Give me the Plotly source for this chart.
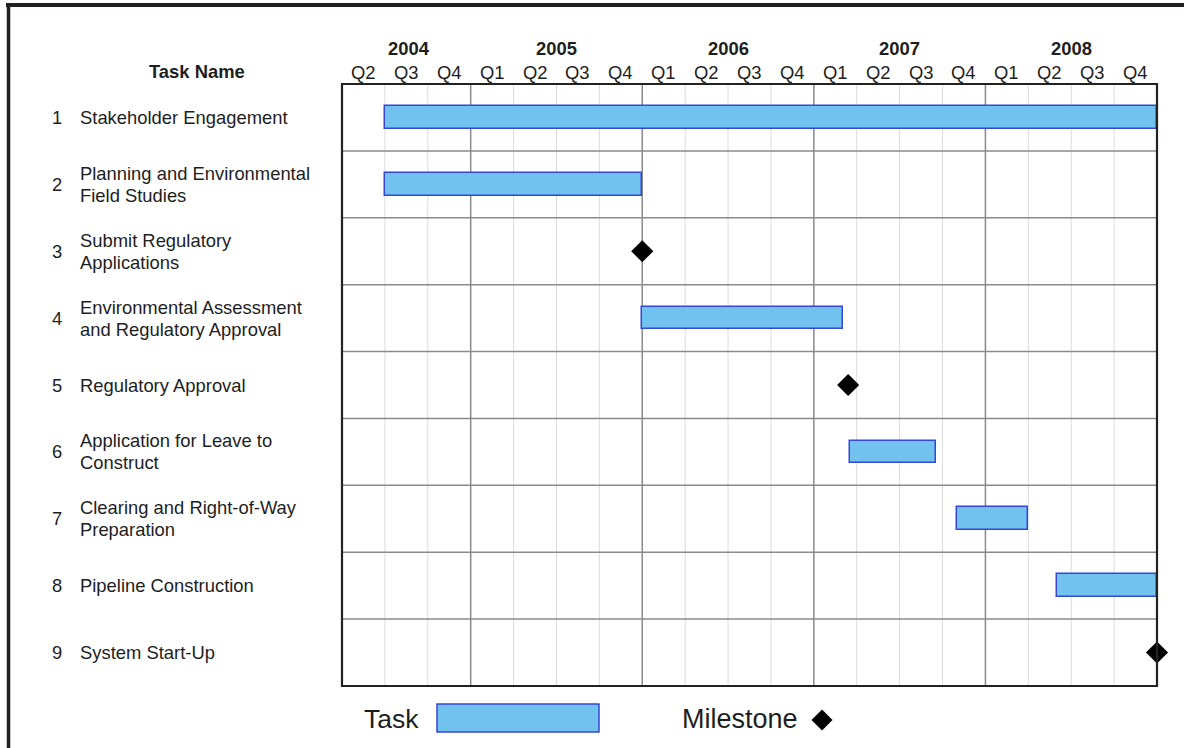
import plotly.graph_objects as go

# ---------------- data ----------------
task_numbers = ["1", "2", "3", "4", "5", "6", "7", "8", "9"]
task_names = [
    "Stakeholder Engagement",
    "Planning and Environmental<br>Field Studies",
    "Submit Regulatory<br>Applications",
    "Environmental Assessment<br>and Regulatory Approval",
    "Regulatory Approval",
    "Application for Leave to<br>Construct",
    "Clearing and Right-of-Way<br>Preparation",
    "Pipeline Construction",
    "System Start-Up",
]
# task bars: row index (1-based), start, end (decimal years)
bar_rows = [1, 2, 4, 6, 7, 8]
bar_starts = [2004.5, 2004.5, 2006.0, 2007.21, 2007.835, 2008.42]
bar_ends = [2009.0, 2006.0, 2007.17, 2007.71, 2008.25, 2009.0]
# milestones
ms_rows = [3, 5, 9]
ms_dates = [2006.0, 2007.20, 2009.0]

years = ["2004", "2005", "2006", "2007", "2008"]
year_centers = [2004.64, 2005.5, 2006.5, 2007.5, 2008.5]
quarter_labels = ["Q2", "Q3", "Q4"] + ["Q1", "Q2", "Q3", "Q4"] * 4
x_start, x_end = 2004.25, 2009.0

# ---------------- geometry helpers ----------------
W, H = 1184, 748
L, R, T, B = 342, 27, 84, 62
PW, PH = W - L - R, H - T - B
FONT = "Liberation Sans, Arial, Helvetica, sans-serif"
FS = 18.4
TXT = "#1e1e1e"


def px(x):
    return (x - L) / PW


def py(y):
    return (H - B - y) / PH


fig = go.Figure()

# ---------------- bars ----------------
fig.add_trace(go.Bar(
    orientation="h",
    y=[r - 0.5 for r in bar_rows],
    base=bar_starts,
    x=[e - s for s, e in zip(bar_starts, bar_ends)],
    width=0.34,
    marker=dict(color="#71C2EF", line=dict(color="#3547D6", width=1.5)),
    showlegend=False,
    hoverinfo="skip",
    cliponaxis=False,
))

# ---------------- milestones ----------------
fig.add_trace(go.Scatter(
    x=ms_dates,
    y=[r - 0.5 for r in ms_rows],
    mode="markers",
    marker=dict(symbol="diamond", size=17, color="black"),
    showlegend=False,
    hoverinfo="skip",
    cliponaxis=False,
))

shapes = []
# quarter gridlines
n_q = len(quarter_labels)
for i in range(1, n_q):
    xv = x_start + i * 0.25
    is_year = abs(xv - round(xv)) < 1e-9
    shapes.append(dict(
        type="line", xref="x", yref="paper", x0=xv, x1=xv, y0=0, y1=1,
        line=dict(color="#8a8a8a" if is_year else "#dcdcdc", width=1.5 if is_year else 1),
        layer="below",
    ))
# row separators
for r in range(1, len(task_names)):
    shapes.append(dict(
        type="line", xref="paper", yref="y", x0=0, x1=1, y0=r, y1=r,
        line=dict(color="#8a8a8a", width=1.5), layer="below",
    ))
# plot frame
shapes.append(dict(type="rect", xref="paper", yref="paper", x0=0, x1=1, y0=0, y1=1,
                   line=dict(color="#222222", width=2.2), layer="above"))
# outer frame (top and left)
shapes.append(dict(type="line", xref="paper", yref="paper",
                   x0=px(6), x1=px(1190), y0=py(5), y1=py(5),
                   line=dict(color="#231f20", width=4)))
shapes.append(dict(type="line", xref="paper", yref="paper",
                   x0=px(8.5), x1=px(8.5), y0=py(3), y1=py(760),
                   line=dict(color="#231f20", width=3.5)))
# legend task box
shapes.append(dict(type="rect", xref="paper", yref="paper",
                   x0=px(437), x1=px(599), y0=py(732), y1=py(704),
                   fillcolor="#71C2EF", line=dict(color="#3547D6", width=1.5)))
# legend milestone diamond
cx, cy, hw = 822, 720, 10.5
shapes.append(dict(type="path", xref="paper", yref="paper",
                   path=f"M {px(cx-hw)} {py(cy)} L {px(cx)} {py(cy-hw)} L {px(cx+hw)} {py(cy)} L {px(cx)} {py(cy+hw)} Z",
                   fillcolor="black", line=dict(color="black", width=0)))

annotations = []
# row labels
LINE_GAP = 22
for i, (num, name) in enumerate(zip(task_numbers, task_names)):
    yc = i + 0.5
    annotations.append(dict(x=px(57), y=yc, xref="paper", yref="y", text=num,
                            showarrow=False, xanchor="center", yanchor="middle",
                            font=dict(family=FONT, size=FS, color=TXT)))
    lines = name.split("<br>")
    n = len(lines)
    for j, line in enumerate(lines):
        shift = ((n - 1) / 2 - j) * LINE_GAP
        annotations.append(dict(x=px(78), y=yc, xref="paper", yref="y", text=line,
                                showarrow=False, xanchor="left", yanchor="middle", align="left",
                                yshift=shift,
                                font=dict(family=FONT, size=FS, color=TXT)))
# header
annotations.append(dict(x=px(197), y=py(71), xref="paper", yref="paper", text="<b>Task Name</b>",
                        showarrow=False, xanchor="center", yanchor="middle",
                        font=dict(family=FONT, size=FS, color=TXT)))
for yl, yc in zip(years, year_centers):
    annotations.append(dict(x=yc, y=py(48), xref="x", yref="paper", text=f"<b>{yl}</b>",
                            showarrow=False, xanchor="center", yanchor="middle",
                            font=dict(family=FONT, size=FS, color=TXT)))
for i, q in enumerate(quarter_labels):
    annotations.append(dict(x=x_start + (i + 0.5) * 0.25, y=py(73), xref="x", yref="paper", text=q,
                            showarrow=False, xanchor="center", yanchor="middle",
                            font=dict(family=FONT, size=FS, color=TXT)))
# legend texts
annotations.append(dict(x=px(391), y=py(719), xref="paper", yref="paper", text="Task",
                        showarrow=False, xanchor="center", yanchor="middle",
                        font=dict(family=FONT, size=26.5, color=TXT)))
annotations.append(dict(x=px(740), y=py(719), xref="paper", yref="paper", text="Milestone",
                        showarrow=False, xanchor="center", yanchor="middle",
                        font=dict(family=FONT, size=27, color=TXT)))

fig.update_layout(
    width=W, height=H, autosize=False,
    margin=dict(l=L, r=R, t=T, b=B, pad=0),
    paper_bgcolor="white", plot_bgcolor="white",
    xaxis=dict(range=[x_start, x_end], showgrid=False, zeroline=False,
               showticklabels=False, ticks="", showline=False, fixedrange=True),
    yaxis=dict(range=[len(task_names), 0], showgrid=False, zeroline=False,
               showticklabels=False, ticks="", showline=False, fixedrange=True),
    shapes=shapes,
    annotations=annotations,
    bargap=0,
)

fig.write_html("out.html")
